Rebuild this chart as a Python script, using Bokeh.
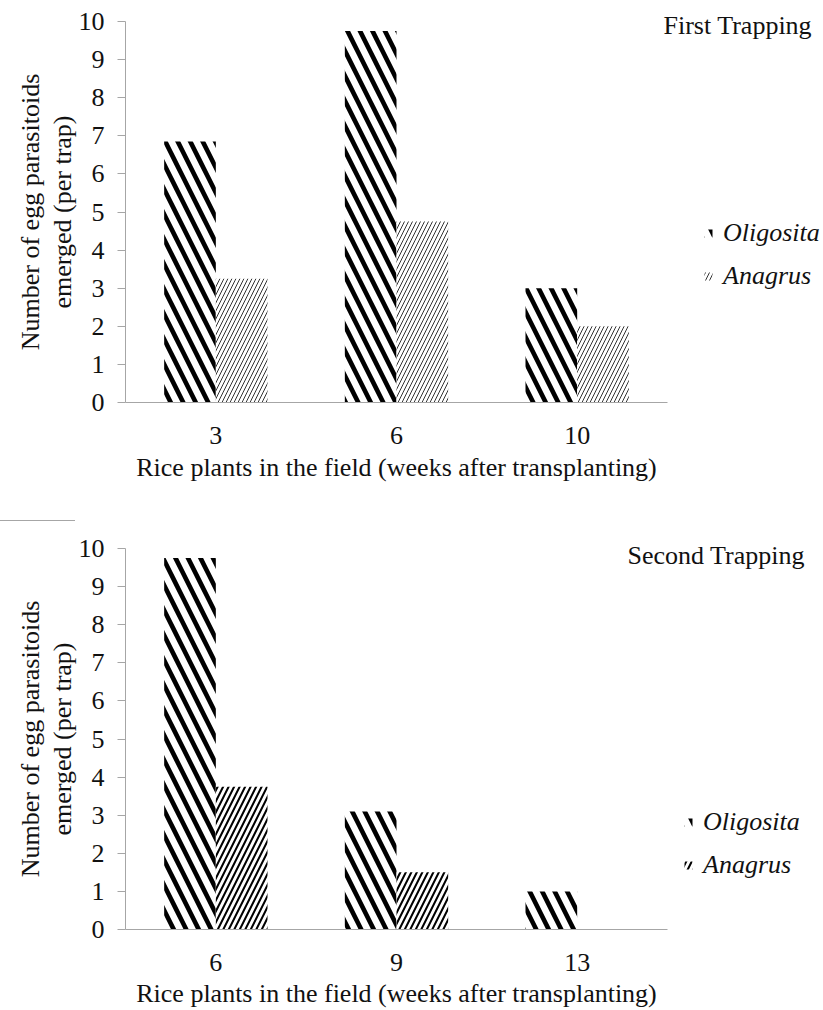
import math
from bokeh.plotting import figure
from bokeh.models import Range1d, Legend, LegendItem, Label, ColumnDataSource, FixedTicker, Div
from bokeh.layouts import column
from bokeh.embed import file_html
from bokeh.resources import INLINE

weeks_first = ["3", "6", "10"]
oligosita_first = [6.85, 9.75, 3.0]
anagrus_first = [3.25, 4.75, 2.0]

weeks_second = ["6", "9", "13"]
oligosita_second = [9.75, 3.1, 1.0]
anagrus_second = [3.75, 1.5, 0.0]

y_ticks = list(range(0, 11))
x_label = "Rice plants in the field (weeks after transplanting)"
y_label_lines = ["Number of egg parasitoids", "emerged (per trap)"]
titles = ["First Trapping", "Second Trapping"]
series = ["Oligosita", "Anagrus"]

FONT = "Liberation Serif"
FS = "26px"
AX = "#a6a6a6"
TXT = "#111111"

W = 823
LEFT = 125               # pixel position of the y axis
CAT_PX = 180.67          # pixel width of one category slot
BAR_W = 0.286            # bar width as a fraction of a slot
UNIT_PX = 38.1           # pixels per y unit


def make(weeks, olig, anag, anag_style, title, height, zero_px, title_xy, legend_xy, xlabel_y):
    pos = [i + 0.5 for i in range(len(weeks))]
    src = ColumnDataSource(dict(pos=pos, week=weeks, olig=olig, anag=anag,
                                x1=[v - BAR_W / 2 for v in pos], x2=[v + BAR_W / 2 for v in pos]))
    x_start = -LEFT / CAT_PX
    x_end = (W - LEFT) / CAT_PX
    y_start = -(height - zero_px) / UNIT_PX
    y_end = zero_px / UNIT_PX
    p = figure(x_range=Range1d(x_start, x_end), y_range=Range1d(y_start, y_end),
               width=W, height=height, output_backend="svg", toolbar_location=None,
               min_border_left=0, min_border_right=0, min_border_top=0,
               min_border_bottom=0)
    r1 = p.vbar(x="x1", top="olig", bottom=0, width=BAR_W, source=src,
                fill_color="white", line_color=None, hatch_pattern="\\", hatch_color="black",
                hatch_scale=25, hatch_weight=4.6)
    r2 = p.vbar(x="x2", top="anag", bottom=0, width=BAR_W, source=src,
                fill_color="white", line_color=None, hatch_pattern="/", **anag_style)

    p.xgrid.visible = False
    p.ygrid.visible = False
    p.outline_line_color = None

    p.yaxis.fixed_location = 0
    p.yaxis.ticker = y_ticks
    p.yaxis.bounds = (0, 10)
    p.yaxis.minor_tick_line_color = None
    p.yaxis.major_tick_out = 8
    p.yaxis.major_tick_in = 0
    p.yaxis.major_tick_line_color = AX
    p.yaxis.axis_line_color = AX
    p.yaxis.major_label_standoff = 13

    p.xaxis.fixed_location = 0
    p.xaxis.ticker = FixedTicker(ticks=pos)
    p.xaxis.major_label_overrides = {v: w for v, w in zip(pos, weeks)}
    p.xaxis.bounds = (0, len(weeks))
    p.xaxis.minor_tick_line_color = None
    p.xaxis.major_tick_line_color = None
    p.xaxis.major_tick_out = 0
    p.xaxis.major_tick_in = 0
    p.xaxis.axis_line_color = AX
    p.xaxis.major_label_standoff = 24

    for ax in (p.xaxis, p.yaxis):
        ax.major_label_text_font = FONT
        ax.major_label_text_font_size = FS
        ax.major_label_text_color = TXT

    def text(x, y, s, align="center", style="normal", angle=0.0):
        p.add_layout(Label(x=x, y=y, x_units="screen", y_units="screen", text=s,
                           text_font=FONT, text_font_size=FS, text_color=TXT,
                           text_font_style=style, angle=angle,
                           text_baseline="middle", text_align=align))

    # x-axis title, centred under the three category slots
    text(LEFT + len(weeks) * CAT_PX / 2, xlabel_y, x_label)
    # y-axis title (two lines), centred on the 0..10 axis
    y_mid = height - zero_px + 5 * UNIT_PX
    text(30, y_mid, y_label_lines[0], angle=math.pi / 2)
    text(62, y_mid, y_label_lines[1], angle=math.pi / 2)
    # panel title
    text(title_xy[0], title_xy[1], title, align="left")

    legend = Legend(items=[LegendItem(label=series[0], renderers=[r1]),
                           LegendItem(label=series[1], renderers=[r2])],
                    location=legend_xy, orientation="vertical",
                    label_text_font=FONT, label_text_font_size=FS,
                    label_text_font_style="italic", label_text_color=TXT,
                    glyph_width=10, glyph_height=10, label_standoff=10, spacing=13,
                    padding=0, margin=0, border_line_color=None, background_fill_alpha=0)
    p.add_layout(legend)
    return p


p1 = make(weeks_first, oligosita_first, anagrus_first,
          dict(hatch_color="#333333", hatch_scale=8, hatch_weight=1.0),
          titles[0], 520, 402, (663, 495), (703, 229), 53)
sep = Div(text="", width=75, height=1, margin=0, styles={"background-color": AX})
p2 = make(weeks_second, oligosita_second, anagrus_second,
          dict(hatch_color="black", hatch_scale=11, hatch_weight=2.0),
          titles[1], 489, 408, (627, 455), (683, 130), 17)

layout = column(p1, sep, p2)
open("out.html", "w").write(file_html(layout, INLINE))
